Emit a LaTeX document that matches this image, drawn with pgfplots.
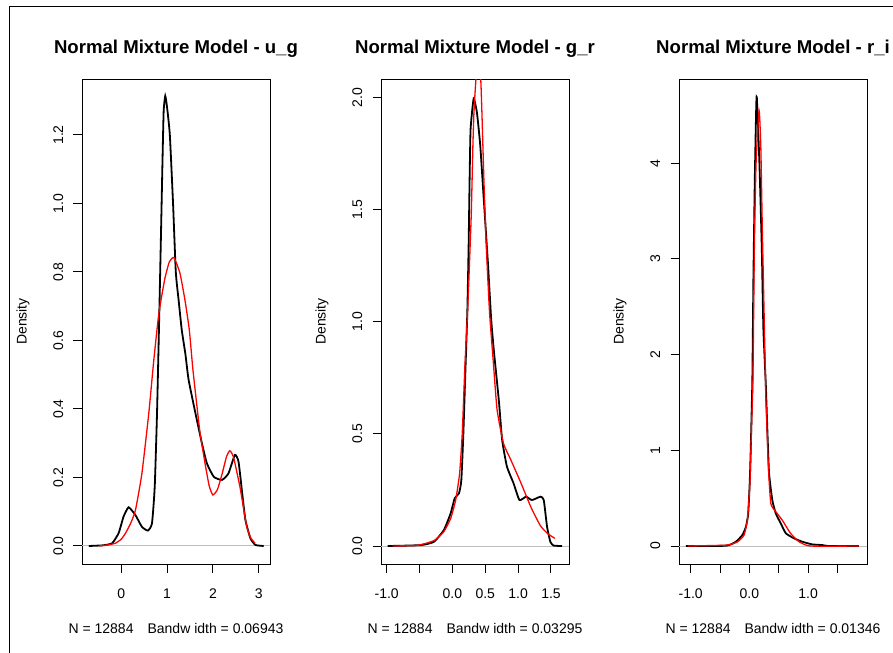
\documentclass[border=0pt]{standalone}
\usepackage{fontspec}
\setmainfont{Liberation Sans}
\usepackage{pgfplots}
\pgfplotsset{compat=1.18}
\definecolor{rred}{RGB}{255,0,0}
\definecolor{zgray}{RGB}{190,190,190}

\newcommand{\tickfont}{\fontsize{14bp}{16bp}\selectfont}

\pgfplotsset{
  rpanel/.style={
    scale only axis, width=188bp, height=485bp,
    anchor=south west,
    axis line style={line width=1bp, black},
    tick align=outside, xtick pos=bottom, ytick pos=left,
    major tick length=8.5bp,
    every tick/.style={line width=1bp, black},
    minor tick num=0, scaled ticks=false,
    xticklabel style={font=\tickfont, anchor=base, inner sep=0pt},
    yticklabel style={font=\tickfont, rotate=90, anchor=base, inner sep=0pt},
    xticklabel shift=25.8bp, yticklabel shift=10.5bp,
    every axis title/.style={font=\bfseries\fontsize{18.6bp}{20bp}\selectfont,
      at={(axis description cs:0.5,1.053)}, anchor=base},
    every axis x label/.style={font=\tickfont,
      at={(axis description cs:0.5,-0.1429)}, anchor=base},
    every axis y label/.style={font=\tickfont,
      at={(axis description cs:-0.2952,0.5)}, rotate=90, anchor=base},
    ylabel={Density},
  },
  blk/.style={black, line width=1.8bp, smooth, tension=0.3},
  rd/.style={rred, line width=1.3bp, smooth, tension=0.3},
}

\begin{document}
\begin{tikzpicture}
\path[use as bounding box] (0,0) rectangle (893bp,-653bp);
\draw[line width=1.6bp] (9.5bp,-653bp) -- (9.5bp,-6.5bp) -- (893bp,-6.5bp);

% u_g
\begin{axis}[rpanel, at={(82bp,-564bp)},
  xmin=-0.858, xmax=3.247, ymin=-0.0526, ymax=1.3635,
  xtick={0,1,2,3}, xticklabels={0,1,2,3},
  ytick={0,0.2,0.4,0.6,0.8,1.0,1.2},
  yticklabels={0.0,0.2,0.4,0.6,0.8,1.0,1.2},
  title={Normal Mixture Model - u\_g},
  xlabel={N = 12884\quad Bandw idth = 0.06943}]
\addplot[zgray, line width=1bp] coordinates {(-0.858,0) (3.247,0)};
\addplot[blk] coordinates {
(-0.71,0) (-0.4,0.002) (-0.2,0.008) (-0.057,0.038) (0.05,0.086) (0.16,0.113)
(0.31,0.09) (0.45,0.056) (0.58,0.045) (0.67,0.066) (0.73,0.173) (0.78,0.388)
(0.83,0.68) (0.867,0.913) (0.90,1.127) (0.925,1.27) (0.96,1.314) (1.00,1.28)
(1.06,1.20) (1.13,1.0) (1.19,0.8) (1.25,0.72) (1.32,0.631) (1.40,0.56)
(1.47,0.485) (1.62,0.387) (1.76,0.30) (1.87,0.241) (2.02,0.202) (2.20,0.193)
(2.34,0.212) (2.48,0.266) (2.56,0.246) (2.64,0.154) (2.71,0.076) (2.82,0.022)
(2.93,0.003) (3.11,0)};
\addplot[rd] coordinates {
(-0.49,0) (-0.3,0.003) (-0.13,0.008) (0.0,0.02) (0.09,0.037) (0.2,0.065)
(0.31,0.105) (0.45,0.212) (0.6,0.387) (0.71,0.543) (0.82,0.679) (0.95,0.78)
(1.05,0.83) (1.15,0.842) (1.28,0.797) (1.39,0.718) (1.485,0.631) (1.56,0.52)
(1.65,0.41) (1.72,0.33) (1.83,0.24) (1.92,0.175) (2.0,0.149) (2.1,0.165)
(2.2,0.21) (2.3,0.262) (2.37,0.278) (2.45,0.26) (2.59,0.173) (2.67,0.11)
(2.74,0.056) (2.82,0.025) (2.92,0.008)};
\end{axis}

% g_r
\begin{axis}[rpanel, at={(381bp,-564bp)},
  xmin=-1.086, xmax=1.774, ymin=-0.0803, ymax=2.083,
  xtick={-1,-0.5,0,0.5,1,1.5}, xticklabels={-1.0,,0.0,0.5,1.0,1.5},
  ytick={0,0.5,1,1.5,2}, yticklabels={0.0,0.5,1.0,1.5,2.0},
  title={Normal Mixture Model - g\_r},
  xlabel={N = 12884\quad Bandw idth = 0.03295}]
\addplot[zgray, line width=1bp] coordinates {(-1.086,0) (1.774,0)};
\addplot[blk] coordinates {
(-0.985,0) (-0.48,0.004) (-0.28,0.019) (-0.13,0.071) (-0.026,0.146) (0.035,0.213)
(0.10,0.235) (0.136,0.294) (0.167,0.503) (0.20,0.80) (0.227,1.042) (0.247,1.34)
(0.262,1.637) (0.277,1.86) (0.323,1.994) (0.373,1.934) (0.424,1.786) (0.474,1.562)
(0.54,1.265) (0.59,1.012) (0.63,0.874) (0.706,0.651) (0.757,0.473) (0.83,0.354)
(0.93,0.28) (1.02,0.205) (1.12,0.22) (1.21,0.205) (1.34,0.22) (1.39,0.205)
(1.44,0.086) (1.49,0.019) (1.54,0.002) (1.67,0)};
\addplot[rd] coordinates {
(-0.91,0) (-0.53,0.003) (-0.28,0.024) (-0.13,0.064) (-0.026,0.123) (0.05,0.205)
(0.11,0.324) (0.15,0.503) (0.19,0.80) (0.235,1.07) (0.265,1.30) (0.288,1.488)
(0.312,1.786) (0.328,1.934) (0.36,2.09) (0.395,2.16) (0.43,2.09) (0.449,1.934)
(0.479,1.637) (0.515,1.34) (0.565,1.042) (0.62,0.83) (0.68,0.607) (0.777,0.458)
(0.88,0.39) (1.03,0.29) (1.2,0.17) (1.34,0.09) (1.45,0.055) (1.56,0.034)};
\end{axis}

% r_i
\begin{axis}[rpanel, at={(679bp,-564bp)},
  xmin=-1.199, xmax=2.003, ymin=-0.188, ymax=4.88,
  xtick={-1,-0.5,0,0.5,1,1.5}, xticklabels={-1.0,,0.0,,1.0,},
  ytick={0,1,2,3,4}, yticklabels={0,1,2,3,4},
  title={Normal Mixture Model - r\_i},
  xlabel={N = 12884\quad Bandw idth = 0.01346}]
\addplot[zgray, line width=1bp] coordinates {(-1.199,0) (2.003,0)};
\addplot[blk] coordinates {
(-1.08,0) (-0.40,0.003) (-0.23,0.045) (-0.12,0.115) (-0.06,0.2) (-0.02,0.34)
(0.007,0.69) (0.024,1.04) (0.05,1.735) (0.068,2.79) (0.092,3.835) (0.114,4.53)
(0.126,4.69) (0.17,4.01) (0.21,3.14) (0.238,2.27) (0.28,1.68) (0.306,1.21)
(0.335,0.76) (0.39,0.48) (0.45,0.34) (0.534,0.237) (0.62,0.133) (0.76,0.08)
(0.90,0.045) (1.07,0.017) (1.24,0.01) (1.35,0) (1.865,0)};
\addplot[rd] coordinates {
(-1.05,0) (-0.38,0.01) (-0.20,0.045) (-0.09,0.115) (-0.034,0.27) (-0.017,0.41)
(0.012,0.69) (0.034,1.21) (0.06,1.74) (0.085,3.14) (0.114,4.01) (0.165,4.55)
(0.194,4.18) (0.22,3.31) (0.25,2.44) (0.279,1.57) (0.29,1.387) (0.323,0.83)
(0.364,0.446) (0.45,0.358) (0.56,0.27) (0.70,0.133) (0.845,0.045) (1.04,0)
(1.865,0)};
\end{axis}
\end{tikzpicture}
\end{document}
